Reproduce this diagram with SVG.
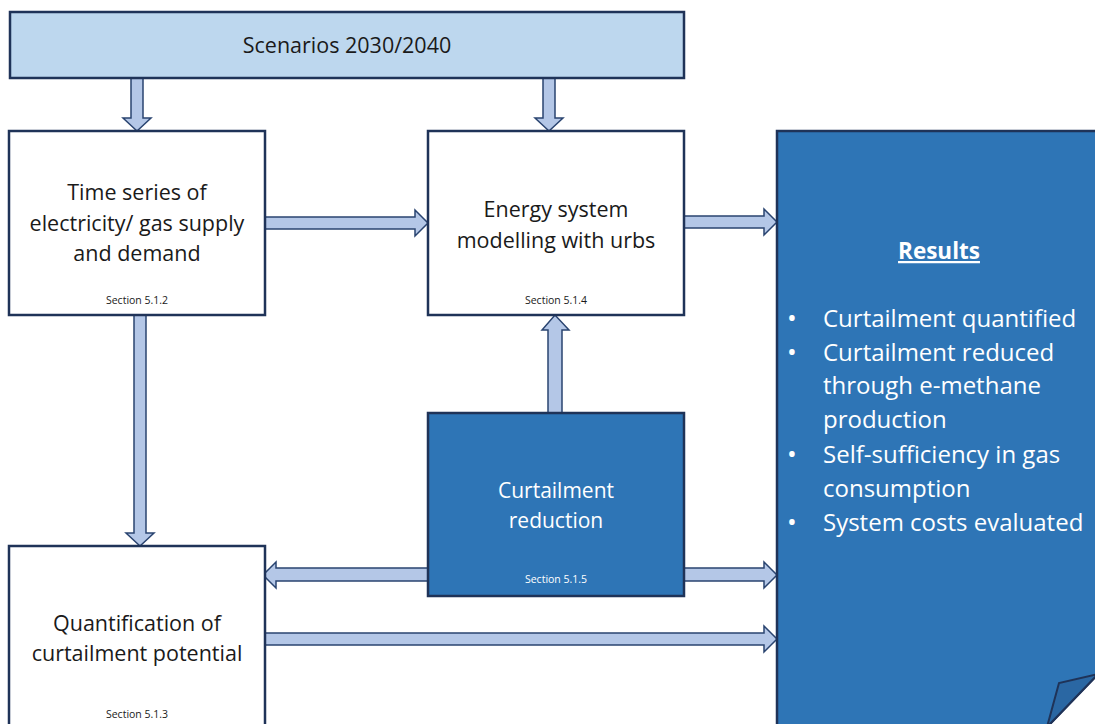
<svg xmlns="http://www.w3.org/2000/svg" width="1095" height="724" viewBox="0 0 1095 724">
<style>
.box{stroke:#1f3358;stroke-width:2.5}
.w{fill:#ffffff}
.dk{fill:#2e75b6}
.arr{fill:#b4c7e7;stroke:#2a4470;stroke-width:1.5;stroke-linejoin:miter}
text{font-family:"Open Sans","Liberation Sans",sans-serif}
.t{font-size:21.5px;fill:#1a1a1a;text-anchor:middle}
.tw{font-size:21px;fill:#ffffff;text-anchor:middle}
.s{font-size:10.5px;fill:#1a1a1a;text-anchor:middle}
.sw{font-size:10.5px;fill:#ffffff;text-anchor:middle}
.b{font-size:24px;fill:#ffffff}
.d{font-size:26px;fill:#ffffff}
</style>
<rect width="1095" height="724" fill="#ffffff"/>
<g id="connectors">
<polygon class="arr" points="131,78 143,78 143,118 151,118 137,131 123,118 131,118"/>
<polygon class="arr" points="543,78 555,78 555,118 563,118 549,131 535,118 543,118"/>
<polygon class="arr" points="265,217 415,217 415,210 428,223 415,236 415,229 265,229"/>
<polygon class="arr" points="684,216 764,216 764,209 777,222 764,235 764,228 684,228"/>
<polygon class="arr" points="134,315 146,315 146,533 154,533 140,546 126,533 134,533"/>
<polygon class="arr" points="548,413 562,413 562,330 569,330 555,315 542,330 548,330"/>
<polygon class="arr" points="428,568 276,568 276,562 263,575 276,588 276,581 428,581"/>
<polygon class="arr" points="684,568 764,568 764,562 777,575 764,588 764,581 684,581"/>
<polygon class="arr" points="265,633 764,633 764,626 777,639 764,652 764,645 265,645"/>
</g>
<g id="scenarios">
<rect class="box" x="10" y="12" width="674" height="66" fill="#bdd7ee"/>
<text class="t" x="347" y="53">Scenarios 2030/2040</text>
</g>
<g id="timeseries">
<rect class="box w" x="9" y="131" width="256" height="184"/>
<text class="t" x="137" y="200">Time series of</text>
<text class="t" x="137" y="231">electricity/ gas supply</text>
<text class="t" x="137" y="261">and demand</text>
<text class="s" x="137" y="304">Section 5.1.2</text>
</g>
<g id="energy">
<rect class="box w" x="428" y="131" width="256" height="184"/>
<text class="t" x="556" y="217">Energy system</text>
<text class="t" x="556" y="248">modelling with urbs</text>
<text class="s" x="556" y="304">Section 5.1.4</text>
</g>
<g id="curtailment">
<rect class="box dk" x="428" y="413" width="256" height="183"/>
<text class="tw" x="556" y="498">Curtailment</text>
<text class="tw" x="556" y="528">reduction</text>
<text class="sw" x="556" y="583">Section 5.1.5</text>
</g>
<g id="quantification">
<rect class="box w" x="9" y="546" width="256" height="182"/>
<text class="t" x="137" y="631">Quantification of</text>
<text class="t" x="137" y="661">curtailment potential</text>
<text class="s" x="137" y="718">Section 5.1.3</text>
</g>
<g id="results">
<polygon class="box dk" points="777,131 1098,131 1098,674 1047,727 777,727"/>
<polygon points="1098,674 1059,683 1047,727" fill="#2a67a3" stroke="#1f3358" stroke-width="2"/>
<text x="939" y="259" font-size="22.5" font-weight="bold" fill="#ffffff" text-anchor="middle" text-decoration="underline">Results</text>
<text class="d" x="787" y="327">•</text>
<text class="b" x="823" y="327">Curtailment quantified</text>
<text class="d" x="787" y="361">•</text>
<text class="b" x="823" y="361">Curtailment reduced</text>
<text class="b" x="823" y="394">through e-methane</text>
<text class="b" x="823" y="428">production</text>
<text class="d" x="787" y="463">•</text>
<text class="b" x="823" y="463">Self-sufficiency in gas</text>
<text class="b" x="823" y="497">consumption</text>
<text class="d" x="787" y="531">•</text>
<text class="b" x="823" y="531">System costs evaluated</text>
</g>
</svg>
